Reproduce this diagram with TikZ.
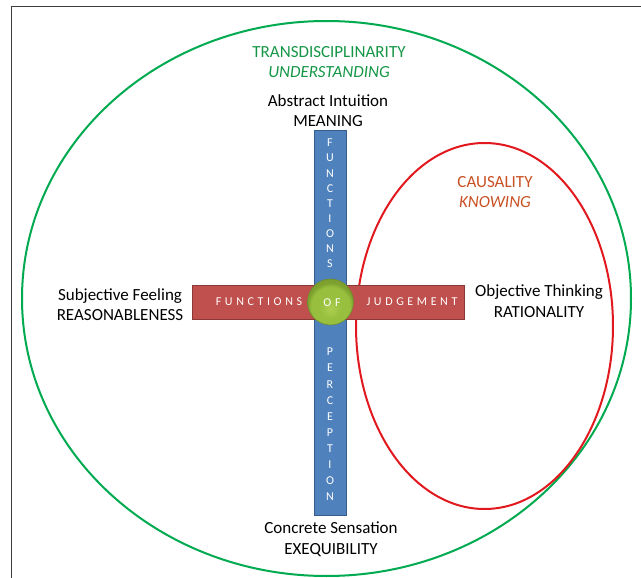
\documentclass[tikz,border=0pt]{standalone}
\usepackage{fontspec}
\setmainfont{Carlito}
\newfontfamily\barfont[LetterSpace=30]{Carlito}

\definecolor{framec}{RGB}{60,60,60}
\definecolor{transgreen}{RGB}{0,170,80}
\definecolor{transtext}{RGB}{20,150,70}
\definecolor{causred}{RGB}{225,25,30}
\definecolor{caustext}{RGB}{200,80,35}
\definecolor{percfill}{RGB}{79,129,189}
\definecolor{percline}{RGB}{56,93,138}
\definecolor{judgfill}{RGB}{192,80,77}
\definecolor{judgline}{RGB}{140,56,54}
\definecolor{ballhi}{RGB}{172,206,80}
\definecolor{ballmid}{RGB}{152,191,62}
\definecolor{balledge}{RGB}{125,160,46}
\definecolor{ballrim}{RGB}{110,140,45}

\pgfdeclareradialshading{ofball}{\pgfpoint{0bp}{-8bp}}{%
  color(0bp)=(ballhi); color(12bp)=(ballmid); color(21bp)=(ballmid);
  color(25bp)=(balledge); color(50bp)=(balledge)}

\tikzset{
  label/.style={font=\fontsize{17}{20.5}\selectfont, align=center, inner sep=0pt},
  barletter/.style={font=\fontsize{12}{13}\selectfont, text=white, inner sep=0pt},
  spaced/.style={font=\fontsize{12}{13}\barfont},
  fnbar/.style={draw, line width=0.8pt, inner sep=0pt},
}

\begin{document}
\begin{tikzpicture}[x=1pt,y=-1pt]
\useasboundingbox (0,0) rectangle (641,578);

% page frame
\coordinate (fbl) at (11.5,578);
\coordinate (ftl) at (11.5,6.5);
\coordinate (ftr) at (641,6.5);
\draw[framec, line width=1.6pt] (fbl) -- (ftl) -- (ftr);

% outer and inner domains
\draw[transgreen, line width=2pt] (326.5,298.5) ellipse [x radius=304.5, y radius=277.5];
\draw[causred, line width=2pt] (484.5,326) ellipse [x radius=128.5, y radius=183];

% axes of the functions
\node (vbar) [fnbar, draw=percline, fill=percfill, minimum width=32pt, minimum height=385pt] at (330,322.5) {};
\node (hbar) [fnbar, draw=judgline, fill=judgfill, minimum width=272pt, minimum height=34pt] at (328,302) {};

% central ball
\node (ball) [circle, minimum size=46pt, inner sep=0pt] at (330.5,302) {};
\shade[shading=ofball] (ball.center) circle [radius=23];
\draw[ballrim, line width=0.6pt] (ball.center) circle [radius=23];
\node (of) [barletter, spaced] at (332,303) {OF};

% horizontal words
\node (fj1) [barletter, spaced] at (259,302) {FUNCTIONS};
\node (fj2) [barletter, spaced] at (412,302) {JUDGEMENT};

% vertical words
\foreach \ch [count=\i] in {F,U,N,C,T,I,O,N,S}
  \node (fp\i) [barletter] at (330,{143+(\i-1)*15.1}) {\ch};
\foreach \ch [count=\i] in {P,E,R,C,E,P,T,I,O,N}
  \node (pc\i) [barletter] at (330,{352+(\i-1)*16.1}) {\ch};

% labels
\node (trans) [label, text=transtext] at (329,62) {TRANSDISCIPLINARITY\\\itshape UNDERSTANDING};
\node (abstr) [label] at (328,110.5) {Abstract Intuition\\MEANING};
\node (caus) [label, text=caustext] at (495,192) {CAUSALITY\\\itshape KNOWING};
\node (subj) [label] at (120,304.5) {Subjective Feeling\\REASONABLENESS};
\node (obj) [label] at (539,301) {Objective Thinking\\RATIONALITY};
\node (conc) [label] at (331,539) {Concrete Sensation\\EXEQUIBILITY};
\end{tikzpicture}
\end{document}
